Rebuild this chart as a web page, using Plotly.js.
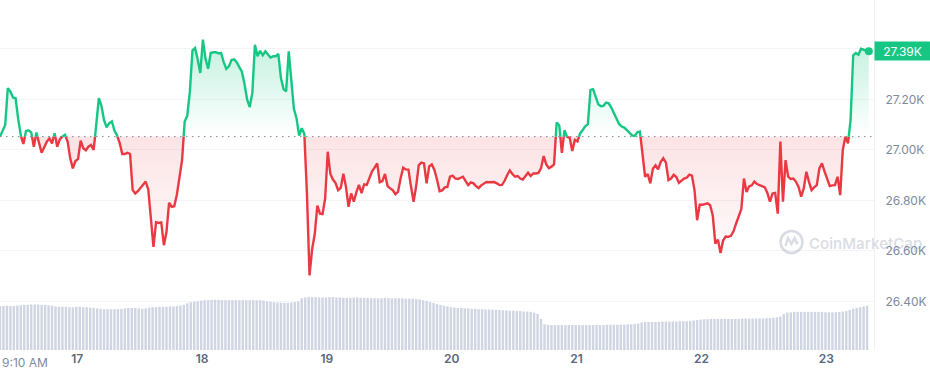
<!DOCTYPE html>
<html>
<head>
<meta charset="utf-8">
<script src="https://cdn.plot.ly/plotly-3.0.1.min.js"></script>
<style>
html,body{margin:0;padding:0;background:#fff;}
#chart{width:930px;height:376px;}
</style>
</head>
<body>
<div id="chart"></div>
<script>
// ---- data (BTC price, USD, every 30 min from 16 May 09:10) ----
const priceStartUTC = [2023, 4, 16, 9, 10];
const priceStepMin = 30;
const price = [
27053,27073,27099,27245,27232,27208,27205,27122,27056,27024,
27075,27078,27070,27013,27069,27026,26989,27011,27033,27046,
27026,27066,27013,27042,27053,27060,27033,26967,26927,26956,
26964,27037,27007,26999,27013,27020,27000,27098,27205,27175,
27118,27090,27106,27113,27077,27058,27028,26984,26984,26989,
26984,26841,26828,26837,26850,26864,26875,26844,26715,26616,
26714,26711,26713,26623,26675,26791,26775,26777,26824,26903,
26960,27113,27136,27232,27395,27404,27358,27305,27437,27362,
27322,27384,27387,27387,27383,27384,27348,27321,27331,27356,
27359,27348,27328,27310,27261,27200,27170,27225,27417,27371,
27393,27375,27391,27380,27366,27371,27371,27381,27285,27241,
27232,27391,27285,27162,27126,27057,27086,27064,26828,26503,
26608,26666,26780,26748,26746,26808,26993,26905,26883,26869,
26841,26850,26906,26854,26775,26828,26795,26832,26862,26829,
26864,26862,26889,26915,26930,26947,26872,26877,26905,26857,
26848,26841,26825,26834,26887,26930,26923,26922,26856,26795,
26858,26940,26950,26947,26868,26935,26943,26921,26883,26837,
26840,26852,26854,26894,26898,26887,26885,26889,26894,26877,
26861,26872,26868,26857,26849,26860,26868,26873,26872,26874,
26873,26868,26861,26862,26878,26901,26919,26905,26894,26897,
26887,26883,26899,26910,26897,26907,26907,26909,26928,26976,
26943,26928,26934,26943,27109,27097,26989,27078,27052,27048,
26996,27040,27034,27065,27079,27094,27102,27238,27241,27215,
27181,27173,27175,27188,27185,27168,27147,27124,27103,27093,
27089,27079,27069,27058,27056,27070,27073,26987,26894,26905,
26868,26926,26939,26923,26952,26967,26950,26881,26887,26902,
26893,26870,26878,26887,26890,26902,26898,26841,26722,26783,
26783,26785,26789,26781,26742,26629,26645,26592,26642,26657,
26656,26660,26678,26709,26740,26766,26887,26834,26856,26860,
26875,26865,26861,26857,26852,26830,26795,26828,26830,26748,
27033,26795,26960,26894,26885,26887,26874,26854,26815,26848,
26914,26874,26841,26852,26861,26927,26947,26914,26885,26857,
26860,26861,26894,26821,27000,27053,27026,27119,27375,27384,
27377,27401,27397,27393,27391
];

// ---- 24h volume (billion USD), every 40 min ----
const volumeStepMin = 40;
const volume = [
11.3,11.3,11.4,11.3,11.3,11.4,
11.5,11.6,11.6,11.7,11.7,11.7,11.6,11.6,11.5,11.4,
11.2,11.1,11.1,11.1,11.0,11.0,11.1,11.1,11.0,11.0,10.9,10.8,10.7,
10.6,10.5,10.5,10.5,10.5,10.5,10.6,10.7,10.8,
10.8,10.8,10.7,10.6,10.7,
10.9,11.0,11.0,11.1,11.1,11.1,11.2,11.2,11.3,11.4,
11.6,
12.0,12.3,12.4,12.5,
12.7,12.8,12.8,12.9,12.9,12.9,12.8,12.8,12.8,12.8,12.8,12.8,12.8,12.8,12.8,12.8,12.8,12.8,12.7,12.5,12.4,12.3,12.2,12.2,12.1,12.1,12.2,12.3,12.5,
13.3,13.5,
13.6,13.6,13.6,13.5,13.5,13.5,13.6,13.6,13.5,13.5,13.4,13.4,13.4,13.5,13.5,13.4,13.4,13.4,13.3,13.3,13.3,13.3,13.4,13.4,13.3,13.3,13.3,13.3,13.2,13.2,13.2,13.1,
13.0,12.8,12.6,12.3,12.1,11.8,11.6,11.4,11.2,
11.0,10.9,10.8,10.8,10.7,10.7,10.6,10.6,10.5,10.5,10.4,10.4,10.4,10.3,10.3,10.2,10.2,10.1,10.1,10.0,10.0,9.9,9.9,9.8,9.6,9.3,
8.0,
6.6,6.5,6.4,6.4,6.4,6.4,6.4,6.4,6.4,6.4,6.4,6.4,6.4,6.4,6.4,6.4,6.4,6.4,6.5,6.5,6.5,6.5,6.5,6.5,6.6,6.6,6.7,6.8,
7.1,7.2,7.2,7.2,7.2,7.2,7.3,7.3,7.3,7.3,7.3,7.4,7.4,7.4,7.5,7.6,7.7,
7.8,7.9,7.9,8.0,8.0,8.0,8.0,8.0,8.0,8.0,8.0,8.0,8.1,8.1,8.1,8.1,8.1,8.1,8.1,8.2,8.2,8.3,8.4,8.6,
9.2,9.6,9.7,9.8,9.8,9.8,9.8,9.8,9.8,9.8,9.8,9.8,9.7,9.7,9.7,9.7,9.8,9.9,10.0,
10.3,10.6,10.8,11.0,11.2,11.4
];

const dayTickDates = ['2023-05-17','2023-05-18','2023-05-19','2023-05-20','2023-05-21','2023-05-22','2023-05-23'];
const dayTickLabels = ['17','18','19','20','21','22','23'];
const firstTimeLabel = '9:10 AM';
const priceTicks = [26400, 26600, 26800, 27000, 27200, 27400];

// ---- build ----
const GREEN = '#16c784', RED = '#ea3943';
const t0 = Date.UTC.apply(null, priceStartUTC);
const fmt = ms => new Date(ms).toISOString().slice(0,19).replace('T',' ');
const base = price[0];
const last = price[price.length - 1];
const tp = price.map((_, i) => t0 + i * priceStepMin * 60000);

const ax = [], ay = [];
for (let i = 0; i < price.length; i++) {
  ax.push(tp[i]); ay.push(price[i]);
  if (i < price.length - 1) {
    const a = price[i] - base, b = price[i+1] - base;
    if (a * b < 0) {
      const f = (base - price[i]) / (price[i+1] - price[i]);
      ax.push(tp[i] + f * (tp[i+1] - tp[i])); ay.push(base);
    }
  }
}
const xs = ax.map(fmt);
const baseArr = ay.map(() => base);
const upArr = ay.map(v => Math.max(v, base));
const dnArr = ay.map(v => Math.min(v, base));
const greenArr = ay.map(v => v >= base ? v : null);
const redArr = ay.map(v => v <= base ? v : null);
const pMax = Math.max.apply(null, price), pMin = Math.min.apply(null, price);

const volX = volume.map((_, i) => fmt(t0 + i * volumeStepMin * 60000));

const traces = [
  {x: xs, y: baseArr, mode: 'lines', line: {width: 0}, hoverinfo: 'skip', showlegend: false},
  {x: xs, y: upArr, mode: 'lines', line: {width: 0}, fill: 'tonexty', hoverinfo: 'skip', showlegend: false,
   fillcolor: 'rgba(22,199,132,0.12)',
   fillgradient: {type: 'vertical', start: base, stop: pMax,
     colorscale: [[0, 'rgba(22,199,132,0)'], [1, 'rgba(22,199,132,0.26)']]}},
  {x: xs, y: baseArr, mode: 'lines', line: {width: 0}, hoverinfo: 'skip', showlegend: false},
  {x: xs, y: dnArr, mode: 'lines', line: {width: 0}, fill: 'tonexty', hoverinfo: 'skip', showlegend: false,
   fillcolor: 'rgba(234,57,67,0.08)',
   fillgradient: {type: 'vertical', start: base, stop: pMin,
     colorscale: [[0, 'rgba(234,57,67,0.14)'], [1, 'rgba(234,57,67,0)']]}},
  {x: xs, y: redArr, mode: 'lines', line: {color: RED, width: 2.4}, connectgaps: false, hoverinfo: 'skip', showlegend: false},
  {x: xs, y: greenArr, mode: 'lines', line: {color: GREEN, width: 2.4}, connectgaps: false, hoverinfo: 'skip', showlegend: false},
  {x: [xs[xs.length-1]], y: [last], mode: 'markers', marker: {color: GREEN, size: 8}, hoverinfo: 'skip', showlegend: false},
  {type: 'bar', x: volX, y: volume, yaxis: 'y2', marker: {color: '#cfd5e2'}, hoverinfo: 'skip', showlegend: false}
];

const wmColor = 'rgba(140,150,170,0.33)';
const layout = {
  width: 930, height: 376,
  margin: {l: 0, r: 56, t: 0, b: 26},
  paper_bgcolor: '#ffffff', plot_bgcolor: '#ffffff',
  font: {family: 'Inter, "Noto Sans", sans-serif', size: 12, color: '#808a9d'},
  bargap: 0.3,
  xaxis: {
    type: 'date',
    range: [fmt(t0), fmt(t0 + 7 * 24 * 3600000)],
    tickvals: dayTickDates, ticktext: dayTickLabels,
    showgrid: false, zeroline: false, showline: false, ticks: '',
    tickfont: {family: 'Inter, sans-serif', size: 12, color: '#58667e', weight: 600},
    fixedrange: true
  },
  yaxis: {
    side: 'right',
    range: [26207.9, 27594],
    tickvals: priceTicks,
    // the top tick's label sits under the current-price tag, so only its grid line shows
    ticktext: priceTicks.map(v => (Math.abs(v - last) < 60) ? '' : (v / 1000).toFixed(2) + 'K'),
    showgrid: true, gridcolor: '#f3f4f7', gridwidth: 1,
    zeroline: false, showline: true, linecolor: '#eff2f5', linewidth: 1,
    ticks: 'outside', ticklen: 8, tickcolor: 'rgba(0,0,0,0)',
    tickfont: {family: 'Inter, sans-serif', size: 12, color: '#808a9d'},
    fixedrange: true
  },
  yaxis2: {overlaying: 'y', range: [0, 90], visible: false, fixedrange: true},
  shapes: [
    {type: 'line', xref: 'paper', x0: 0, x1: 1, yref: 'y', y0: base, y1: base,
     line: {color: '#7d8797', width: 1, dash: '1.5px,4.5px'}, layer: 'above'},
    {type: 'circle', xref: 'paper', yref: 'paper', xsizemode: 'pixel', ysizemode: 'pixel',
     xanchor: 791.5 / 874, yanchor: (350 - 242) / 350, x0: -11, x1: 11, y0: -11, y1: 11,
     line: {color: wmColor, width: 2.6}, layer: 'above'},
    {type: 'path', xref: 'paper', yref: 'paper', xsizemode: 'pixel', ysizemode: 'pixel',
     xanchor: 791.5 / 874, yanchor: (350 - 242) / 350,
     path: 'M -6 -4 L -3.5 4 L 0 -2 L 3 4 L 5 -1 L 7 0',
     line: {color: wmColor, width: 2.4}, layer: 'above'}
  ],
  annotations: [
    {xref: 'paper', yref: 'y', x: 1, y: last, xanchor: 'left', yanchor: 'middle',
     text: (last / 1000).toFixed(2) + 'K', showarrow: false,
     bgcolor: GREEN, font: {family: 'Inter, sans-serif', size: 12, color: '#ffffff'},
     width: 51, height: 14, borderpad: 2, align: 'center'},
    {xref: 'paper', yref: 'paper', x: 0, y: 0, xanchor: 'left', yanchor: 'top', yshift: -3,
     text: firstTimeLabel, showarrow: false,
     font: {family: 'Inter, sans-serif', size: 12, color: '#808a9d'}},
    {xref: 'paper', yref: 'paper', x: 807 / 874, y: (350 - 243) / 350, xanchor: 'left', yanchor: 'middle',
     text: 'CoinMarketCap', showarrow: false,
     font: {family: 'Inter, sans-serif', size: 15, color: wmColor, weight: 600}}
  ]
};

Plotly.newPlot('chart', traces, layout, {staticPlot: true, displayModeBar: false});
</script>
</body>
</html>
